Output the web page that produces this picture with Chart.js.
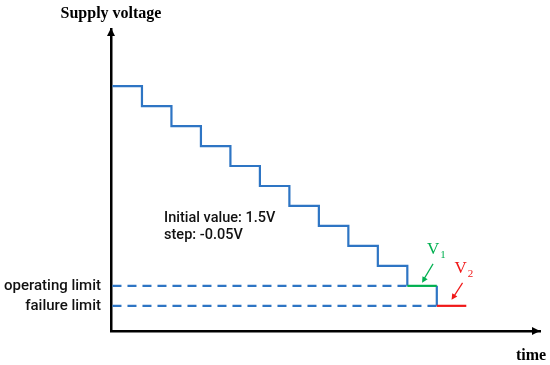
<!DOCTYPE html>
<html>
<head>
<meta charset="utf-8">
<script src="https://cdn.jsdelivr.net/npm/chart.js@4"></script>
<style>
  html, body { margin: 0; padding: 0; background: #fff; }
  #wrap { width: 550px; height: 365px; position: relative; }
</style>
</head>
<body>
<div id="wrap"><canvas id="chart"></canvas></div>
<script>
// time steps and supply voltage levels
const times = [0, 1, 2, 3, 4, 5, 6, 7, 8, 9, 10, 11, 12];
const voltage = [1.5, 1.45, 1.4, 1.35, 1.3, 1.25, 1.2, 1.15, 1.1, 1.05, 1.0, 0.95];
const limitValues = [1.0, 0.95];
const limitLabels = ['operating limit', 'failure limit'];
const notes = ['Initial value: 1.5V', 'step: -0.05V'];

const BLUE = '#2E75C4';
const GREEN = '#00B050';
const RED = '#F01818';

const pts = (xs, ys) => xs.map((x, i) => ({ x: x, y: ys[i] }));

// blue staircase down to the operating limit
const stairs = pts(times.slice(0, 11), voltage.slice(0, 11));
// last blue drop from operating to failure limit
const drop = pts([times[11], times[11]], [voltage[10], voltage[11]]);
const v1Seg = pts([times[10], times[11]], [voltage[10], voltage[10]]);
const v2Seg = pts([times[11], times[12]], [voltage[11], voltage[11]]);
const opLine = pts([times[0], times[10]], [limitValues[0], limitValues[0]]);
const failLine = pts([times[0], times[11]], [limitValues[1], limitValues[1]]);

const lineBase = { pointRadius: 0, borderWidth: 2.2, fill: false, tension: 0, borderJoinStyle: 'miter' };

function arrowHead(ctx, x1, y1, x2, y2, len, half) {
    const a = Math.atan2(y2 - y1, x2 - x1);
    ctx.beginPath();
    ctx.moveTo(x2, y2);
    ctx.lineTo(x2 - len * Math.cos(a) + half * Math.sin(a), y2 - len * Math.sin(a) - half * Math.cos(a));
    ctx.lineTo(x2 - len * Math.cos(a) - half * Math.sin(a), y2 - len * Math.sin(a) + half * Math.cos(a));
    ctx.closePath();
    ctx.fill();
}

function subLabel(ctx, x, y, main, sub, color) {
    ctx.fillStyle = color;
    ctx.textAlign = 'left';
    ctx.textBaseline = 'middle';
    ctx.font = '17px "Liberation Serif"';
    ctx.fillText(main, x, y);
    const w = ctx.measureText(main).width;
    ctx.font = '11px "Liberation Serif"';
    ctx.fillText(sub, x + w + 1, y + 5);
}

const decorations = {
    id: 'decorations',
    afterDraw(chart) {
        const { ctx, chartArea, scales } = chart;
        const xs = scales.x, ys = scales.y;
        ctx.save();

        // axis arrowheads
        ctx.fillStyle = '#000';
        arrowHead(ctx, chartArea.left, chartArea.bottom, chartArea.left, chartArea.top - 1, 8, 4);
        arrowHead(ctx, chartArea.left, chartArea.bottom, chartArea.right, chartArea.bottom, 8, 4);

        // axis names
        ctx.font = 'bold 16px "Liberation Serif"';
        ctx.textAlign = 'center';
        ctx.textBaseline = 'alphabetic';
        ctx.fillText('Supply voltage', chartArea.left, 18);
        ctx.fillText('time', chartArea.right - 9, 360);

        // notes
        ctx.fillStyle = '#111';
        ctx.font = '500 14.5px Roboto';
        ctx.textAlign = 'left';
        ctx.textBaseline = 'middle';
        ctx.fillText(notes[0], xs.getPixelForValue(1.75), ys.getPixelForValue(1.168));
        ctx.fillText(notes[1], xs.getPixelForValue(1.75), ys.getPixelForValue(1.126));

        // V1 label with arrow
        const g = { x: xs.getPixelForValue((times[10] + times[11]) / 2), y: ys.getPixelForValue(voltage[10]) };
        subLabel(ctx, g.x + 5, g.y - 36, 'V', '1', GREEN);
        ctx.strokeStyle = GREEN;
        ctx.fillStyle = GREEN;
        ctx.lineWidth = 1.2;
        ctx.beginPath();
        ctx.moveTo(g.x + 11, g.y - 22);
        ctx.lineTo(g.x + 2, g.y - 7);
        ctx.stroke();
        arrowHead(ctx, g.x + 11, g.y - 22, g.x, g.y - 3, 6, 3);

        // V2 label with arrow
        const r = { x: xs.getPixelForValue((times[11] + times[12]) / 2), y: ys.getPixelForValue(voltage[11]) };
        subLabel(ctx, r.x + 3, r.y - 37, 'V', '2', RED);
        ctx.strokeStyle = RED;
        ctx.fillStyle = RED;
        ctx.beginPath();
        ctx.moveTo(r.x + 11, r.y - 23);
        ctx.lineTo(r.x + 2, r.y - 9);
        ctx.stroke();
        arrowHead(ctx, r.x + 11, r.y - 23, r.x, r.y - 6, 6, 3);

        ctx.restore();
    }
};

new Chart(document.getElementById('chart'), {
    type: 'line',
    data: {
        datasets: [
            Object.assign({ data: v2Seg, borderColor: RED }, lineBase),
            Object.assign({ data: v1Seg, borderColor: GREEN }, lineBase),
            Object.assign({ data: drop, borderColor: BLUE }, lineBase),
            Object.assign({ data: stairs, borderColor: BLUE, stepped: 'before' }, lineBase),
            Object.assign({ data: opLine, borderColor: BLUE, borderDash: [9, 6] }, lineBase),
            Object.assign({ data: failLine, borderColor: BLUE, borderDash: [9, 6] }, lineBase)
        ]
    },
    options: {
        responsive: true,
        maintainAspectRatio: false,
        animation: false,
        layout: { padding: { top: 29, right: 10, left: 0, bottom: 0 } },
        plugins: { legend: { display: false }, tooltip: { enabled: false } },
        scales: {
            x: {
                type: 'linear',
                min: -0.05,
                max: 14.5,
                grid: { display: false, drawTicks: false },
                border: { display: true, color: '#000', width: 2.5 },
                ticks: { display: false },
                afterFit: s => { s.height = 34; }
            },
            y: {
                type: 'linear',
                min: 0.887,
                max: 1.643,
                grid: { display: false, drawTicks: false },
                border: { display: true, color: '#000', width: 2.5 },
                afterBuildTicks: s => { s.ticks = limitValues.map(v => ({ value: v })); },
                ticks: {
                    padding: 10,
                    color: '#111',
                    font: { family: 'Roboto', size: 15, weight: '500' },
                    callback: (v, i) => limitLabels[i]
                },
                afterFit: s => { s.width = 111; }
            }
        }
    },
    plugins: [decorations]
});
</script>
</body>
</html>
